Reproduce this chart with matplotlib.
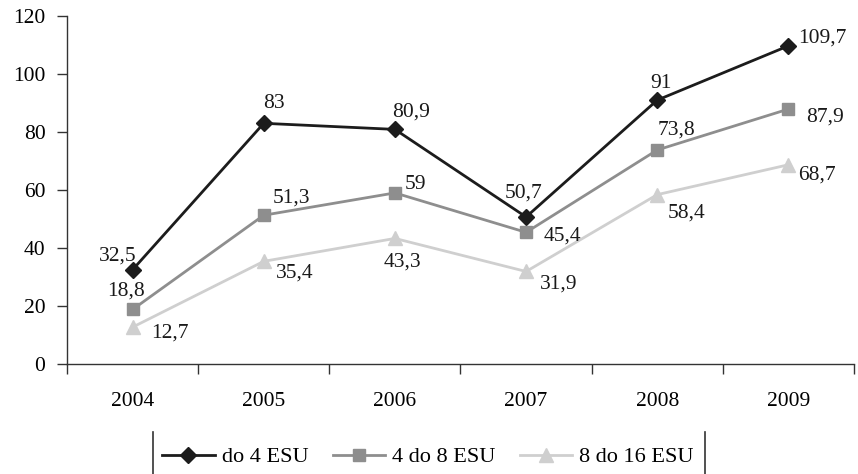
import numpy as np
import matplotlib.pyplot as plt
from matplotlib.lines import Line2D

# ── Data ──────────────────────────────────────────────
years = ["2004", "2005", "2006", "2007", "2008", "2009"]
do_4_esu = [32.5, 83, 80.9, 50.7, 91, 109.7]
esu_4_8 = [18.8, 51.3, 59, 45.4, 73.8, 87.9]
esu_8_16 = [12.7, 35.4, 43.3, 31.9, 58.4, 68.7]
series_names = ["do 4 ESU", "4 do 8 ESU", "8 do 16 ESU"]

# label offsets in pixels (dx, dy up)
offs_1 = [(-15, 14), (10, 20), (16, 17), (-3, 24), (4, 17), (34, 8)]
offs_2 = [(-7, 18), (28, 17), (21, 8), (36, -4), (19, 20), (37, -8)]
offs_3 = [(37, -6), (31, -12), (8, -24), (33, -13), (29, -18), (29, -10)]

plt.rcParams['font.family'] = ['Liberation Serif', 'DejaVu Serif']
plt.rcParams['font.size'] = 15.5

fig = plt.figure(figsize=(8.58, 4.74), dpi=100)
ax = fig.add_axes([67/858, 1 - 364/474, (854 - 67)/858, (364 - 16)/474])

x = np.arange(len(years))
styles = [
    (do_4_esu, '#1c1c1c', 'D', 8, offs_1),
    (esu_4_8, '#8e8e8e', 's', 8.5, offs_2),
    (esu_8_16, '#cfcfcf', '^', 10, offs_3),
]
handles = []
for (vals, col, mk, ms, offs), name in zip(styles, series_names):
    h, = ax.plot(x, vals, color=col, lw=2, marker=mk, ms=ms, mec=col, mfc=col,
                 label=name, clip_on=False)
    handles.append(h)
    for xi, v, (dx, dy) in zip(x, vals, offs):
        ax.annotate(f"{v:g}".replace('.', ','), (xi, v),
                    xytext=(dx * 0.72, dy * 0.72), textcoords='offset points',
                    ha='center', va='center', fontsize=15.5, color='#1a1a1a')

ax.set_xlim(-0.5, len(years) - 0.5)
ax.set_ylim(0, 120)
ax.set_yticks(range(0, 121, 20))
ax.set_xticks(x)
ax.set_xticklabels(years)
ax.set_xticks(np.arange(-0.5, len(years), 1), minor=True)
ax.tick_params(axis='x', which='major', length=0, pad=20)
ax.tick_params(axis='x', which='minor', length=7, width=1, color='#333333')
ax.tick_params(axis='y', length=7, width=1, color='#333333', pad=8.5)
for s in ['top', 'right']:
    ax.spines[s].set_visible(False)
for s in ['left', 'bottom']:
    ax.spines[s].set_color('#333333')
    ax.spines[s].set_linewidth(1)

leg = fig.legend(handles=handles, loc='center', bbox_to_anchor=(428/858, 1 - 457/474),
                 ncol=3, frameon=False, fontsize=16, handlelength=2.35,
                 columnspacing=1.1, handletextpad=0.32, borderpad=0, borderaxespad=0)

# legend box side bars
for xb in (153, 705):
    fig.add_artist(Line2D([xb/858, xb/858], [0, 1 - 432/474],
                          color='#333333', lw=1.2, transform=fig.transFigure))

fig.savefig("out.png", dpi=100)
